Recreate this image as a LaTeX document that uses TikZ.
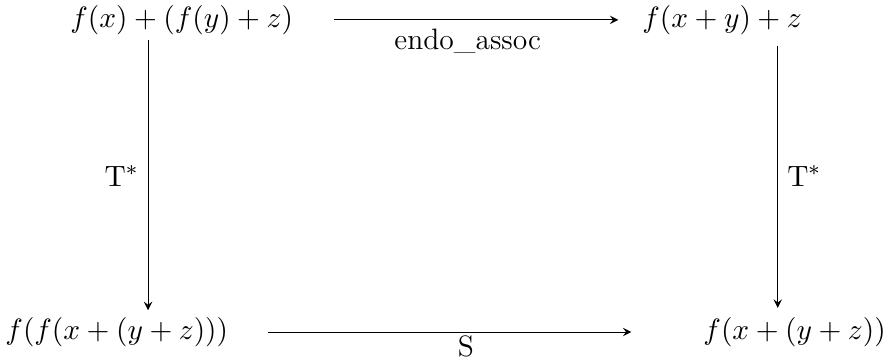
\documentclass[tikz,border=0pt]{standalone}
\usepackage{amsmath}
\usepackage{amssymb}
\usepackage{tikz}
\usetikzlibrary{arrows, positioning}

\begin{document}
\begin{tikzpicture}[>=stealth, auto, font=\fontsize{11}{13}\selectfont]
            \useasboundingbox (0,0) rectangle (11.66,4.72);
            % 节点
            \node (lhs) at (2.38,4.46) {$f(x)+(f(y)+z)$};
            \node (rhs) at (9.46,4.46) {$f(x+y)+z$};
            \node (ff) at (1.53,0.37) {$f(f(x+(y+z)))$};
            \node (fxyz) at (10.41,0.37) {$f(x+(y+z))$};
            \coordinate (lcol) at (1.94,0);
            \coordinate (rcol) at (10.19,0);
            % 连接
            \draw[->, shorten <=0.41cm, shorten >=0.19cm] (lhs) -- node[below] {endo\_assoc} (rhs);
            \draw[->, shorten <=0.4cm, shorten >=0.82cm] (ff) -- node[below, inner sep=1pt] {S} (fxyz);
            \draw[->, shorten <=-0.05cm, shorten >=-0.03cm] (lhs.south -| lcol) -- node[left] {$\mathrm{T}^*$} (ff.north -| lcol);
            \draw[->, shorten <=0.02cm] (rhs.south -| rcol) -- node[right] {$\mathrm{T}^*$} (fxyz.north -| rcol);
\end{tikzpicture}
\end{document}
